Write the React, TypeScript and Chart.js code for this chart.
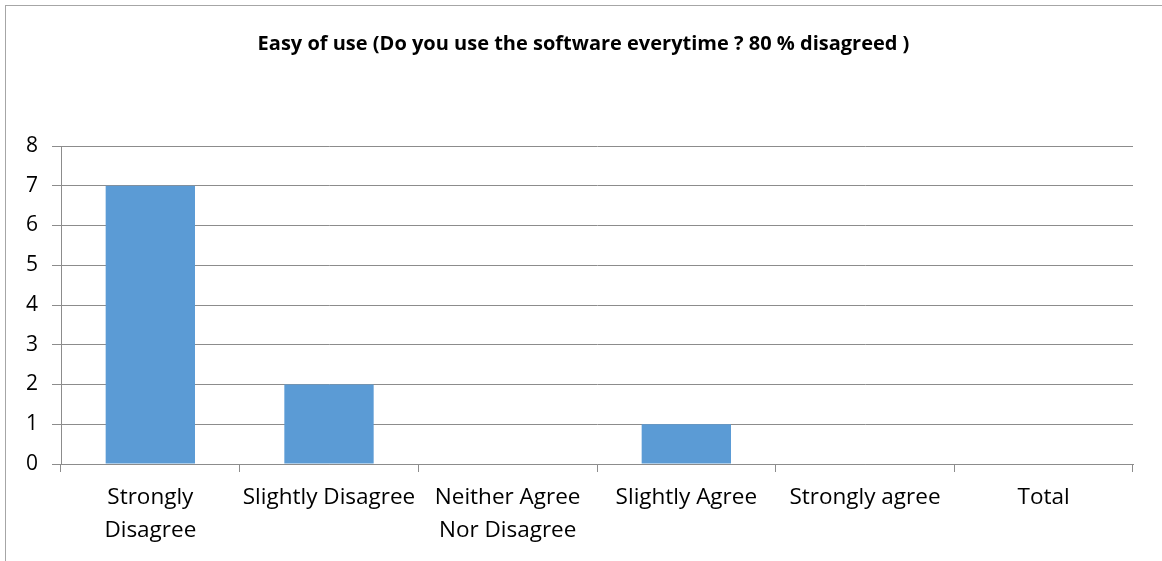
import React, { useEffect, useRef } from "react";
import { Chart, registerables } from "chart.js";

Chart.register(...registerables);

const categories: (string | string[])[] = [
  ["Strongly", "Disagree"],
  "Slightly Disagree",
  ["Neither Agree", "Nor Disagree"],
  "Slightly Agree",
  "Strongly agree",
  "Total",
];
const responses: number[] = [7, 2, 0, 1, 0, 0];
const yTicks: number[] = [0, 1, 2, 3, 4, 5, 6, 7, 8];
const chartTitle = "Easy of use (Do you use the software everytime ? 80 % disagreed )";

const W = 1162;
const H = 561;
const FONT = "'Open Sans', 'Liberation Sans', sans-serif";

// Title centred across the whole frame rather than the plot area
const frameTitle = {
  id: "frameTitle",
  afterDraw(chart: any) {
    const ctx = chart.ctx;
    ctx.save();
    ctx.font = `bold 20px ${FONT}`;
    ctx.fillStyle = "#000";
    ctx.textAlign = "center";
    ctx.textBaseline = "middle";
    ctx.fillText(chartTitle, (5 + W) / 2, 44);
    ctx.restore();
  },
};

export default function App() {
  const ref = useRef<HTMLCanvasElement | null>(null);

  useEffect(() => {
    if (!ref.current) return;
    const chart = new Chart(ref.current, {
      type: "bar",
      data: {
        labels: categories,
        datasets: [
          {
            data: responses,
            backgroundColor: "#5B9BD5",
            borderWidth: 0,
            categoryPercentage: 0.5,
            barPercentage: 1,
          },
        ],
      },
      plugins: [frameTitle],
      options: {
        responsive: false,
        animation: false,
        layout: { padding: { left: 0, right: W - 1133, top: 146, bottom: 0 } },
        plugins: {
          legend: { display: false },
          tooltip: { enabled: false },
          title: { display: false },
        },
        scales: {
          x: {
            offset: true,
            grid: {
              display: true,
              drawOnChartArea: false,
              drawTicks: true,
              tickLength: 8,
              color: "#8c8c8c",
              offset: true,
            },
            border: { display: true, color: "#8c8c8c", width: 1 },
            ticks: {
              color: "#000",
              font: { family: FONT, size: 22.5, lineHeight: 1.47 },
              padding: 9,
              maxRotation: 0,
              autoSkip: false,
            },
            afterFit: (s: any) => {
              s.height = H - 464;
            },
          },
          y: {
            min: 0,
            max: 8,
            afterBuildTicks: (s: any) => {
              s.ticks = yTicks.map((v) => ({ value: v }));
            },
            grid: {
              color: "#8c8c8c",
              tickLength: 9,
              drawTicks: true,
            },
            border: { display: true, color: "#8c8c8c", width: 1 },
            ticks: {
              color: "#000",
              font: { family: FONT, size: 21 },
              padding: 14,
            },
            afterFit: (s: any) => {
              s.width = 61;
            },
          },
        },
      },
    });
    return () => chart.destroy();
  }, []);

  return (
    <div style={{ position: "absolute", left: 0, top: 0, width: W, height: H, background: "#fff" }}>
      <div
        style={{
          position: "absolute",
          left: 5,
          top: 5,
          right: 0,
          bottom: 0,
          borderLeft: "1px solid #a6a6a6",
          borderTop: "1px solid #a6a6a6",
        }}
      />
      <canvas ref={ref} width={W} height={H} style={{ position: "absolute", left: 0, top: 0 }} />
    </div>
  );
}
